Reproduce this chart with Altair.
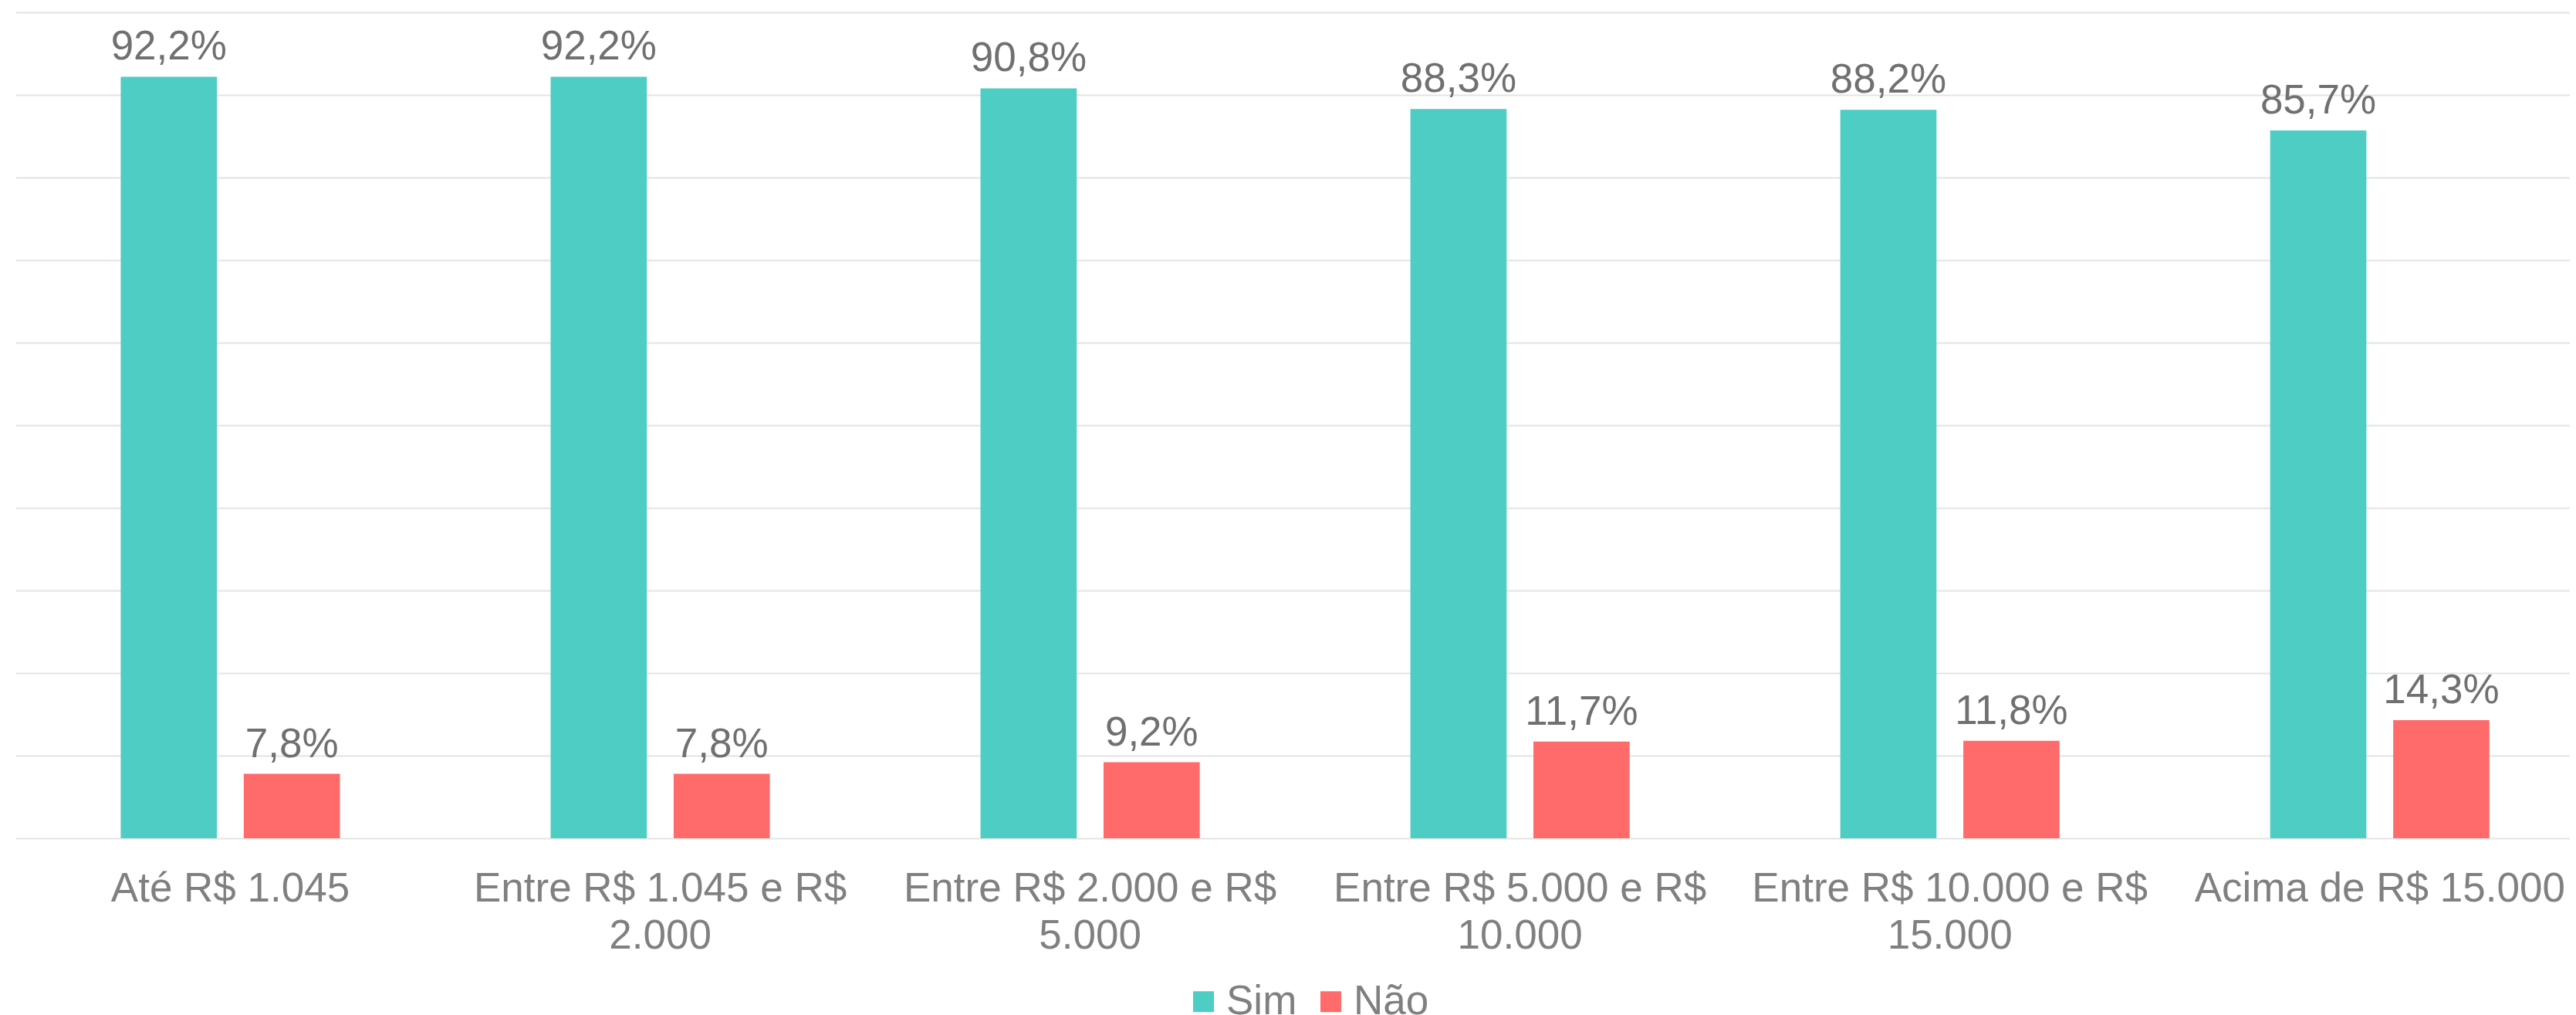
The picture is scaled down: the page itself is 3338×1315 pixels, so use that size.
import altair as alt
import pandas as pd

categories = [
    "Até R$ 1.045",
    "Entre R$ 1.045 e R$ 2.000",
    "Entre R$ 2.000 e R$ 5.000",
    "Entre R$ 5.000 e R$ 10.000",
    "Entre R$ 10.000 e R$ 15.000",
    "Acima de R$ 15.000",
]
series = ["Sim", "Não"]
sim_values = [92.2, 92.2, 90.8, 88.3, 88.2, 85.7]
nao_values = [7.8, 7.8, 9.2, 11.7, 11.8, 14.3]
colors = ["#4ECDC4", "#FF6B6B"]

rows = []
for c, s, n in zip(categories, sim_values, nao_values):
    rows.append({"cat": c, "serie": "Sim", "valor": s})
    rows.append({"cat": c, "serie": "Não", "valor": n})
df = pd.DataFrame(rows)

FONT = "Liberation Sans"

label_expr = (
    "length(datum.label) > 18 ? "
    "[substring(datum.label, 0, lastindexof(datum.label, ' ')), "
    "substring(datum.label, lastindexof(datum.label, ' ') + 1)] : datum.label"
)

x_enc = alt.X(
    "cat:N",
    sort=categories,
    title=None,
    scale=alt.Scale(paddingInner=0.49, paddingOuter=0.216, align=0.567),
    axis=alt.Axis(
        labelAngle=0,
        labelFontSize=53,
        labelColor="#808080",
        labelFont=FONT,
        labelPadding=39,
        labelLineHeight=61,
        labelLimit=1000,
        ticks=False,
        domain=False,
        grid=False,
        labelExpr=label_expr,
    ),
)
xoff_enc = alt.XOffset(
    "serie:N", sort=series, scale=alt.Scale(paddingInner=0.218, paddingOuter=0)
)
y_enc = alt.Y(
    "valor:Q",
    scale=alt.Scale(domain=[0, 100]),
    axis=alt.Axis(
        title=None,
        labels=False,
        ticks=False,
        domain=False,
        tickCount=10,
        gridColor="#e3e3e3",
        gridWidth=2,
    ),
)
color_enc = alt.Color(
    "serie:N",
    sort=series,
    scale=alt.Scale(domain=series, range=colors),
    legend=alt.Legend(
        title=None,
        orient="none",
        legendX=1513,
        legendY=1255,
        direction="horizontal",
        symbolType="square",
        symbolSize=729,
        symbolStrokeWidth=0,
        labelFontSize=53,
        labelColor="#808080",
        labelFont=FONT,
        labelOffset=3,
        columnPadding=17,
        padding=0,
    ),
)

base = alt.Chart(df)

bars = base.mark_bar().encode(x=x_enc, xOffset=xoff_enc, y=y_enc, color=color_enc)

text = (
    base.transform_calculate(
        label="replace(format(datum.valor, '.1f'), '.', ',') + '%'"
    )
    .mark_text(dy=-22, fontSize=53, color="#707070", font=FONT, baseline="alphabetic")
    .encode(x=x_enc, xOffset=xoff_enc, y=y_enc, text="label:N")
)

chart = (
    alt.layer(bars, text)
    .properties(
        width=3310,
        height=1070,
        padding={"left": 12, "top": 8, "right": 0, "bottom": 0},
    )
    .configure_view(stroke=None)
)

chart.save("out.html", embed_options={"renderer": "svg", "actions": False})
